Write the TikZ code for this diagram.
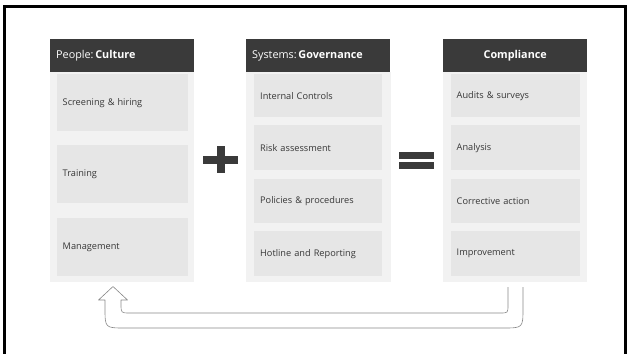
\documentclass[tikz,border=0pt]{standalone}
\usepackage{fontspec}
\setmainfont{Open Sans}
\usetikzlibrary{positioning}
\definecolor{entete}{RGB}{58,58,58}
\definecolor{fond}{RGB}{242,242,242}
\definecolor{case}{RGB}{230,230,230}
\definecolor{texte}{RGB}{55,55,55}
\definecolor{fleche}{RGB}{135,135,135}
\tikzset{
  titre/.style={fill=entete, text=white, anchor=north west, minimum width=144, minimum height=33,
    text width=132, inner xsep=6, inner ysep=0, align=left, font=\fontsize{10.8}{12}\selectfont},
  etape/.style={fill=case, text=texte, anchor=north west, minimum width=131, text width=119,
    inner xsep=6, inner ysep=0, align=left, font=\fontsize{9.2}{10}\selectfont}
}

\begin{document}
\begin{tikzpicture}[x=1pt,y=-1pt]
\useasboundingbox (0,0) rectangle (628,353);
\draw [line width=3pt] (4.5,354) -- (4.5,7) -- (625.5,7) -- (625.5,354);

% les trois colonnes
\fill [fond] (50,72) rectangle (194,282);
\fill [fond] (246,72) rectangle (390.5,282);
\fill [fond] (443,72) rectangle (587,282);

\node [titre] (culture) at (50,39) {People:\,\textbf{Culture}};
\node [titre] (gouvernance) at (246,39) {Systems:\,\textbf{Governance}};
\node [titre, align=center] (conformite) at (443,39) {\textbf{Compliance}};

\node [etape, minimum height=57] (c1) at (56.5,74) {Screening \& hiring};
\node [etape, minimum height=58] (c2) at (56.5,145) {Training};
\node [etape, minimum height=58.5] (c3) at (56.5,217.5) {Management};

\node [etape, minimum height=43, minimum width=128, text width=116] (g1) at (254,74) {Internal Controls};
\node [etape, minimum height=45, minimum width=128, text width=116] (g2) at (254,125) {Risk assessment};
\node [etape, minimum height=44.5, minimum width=128, text width=116] (g3) at (254,178.5) {Policies \& procedures};
\node [etape, minimum height=45, minimum width=128, text width=116] (g4) at (254,231) {Hotline and Reporting};

\node [etape, minimum height=43, minimum width=129.5, text width=117.5] (k1) at (450.5,74) {Audits \& surveys};
\node [etape, minimum height=45, minimum width=129.5, text width=117.5] (k2) at (450.5,125) {Analysis};
\node [etape, minimum height=44.5, minimum width=129.5, text width=117.5] (k3) at (450.5,178.5) {Corrective action};
\node [etape, minimum height=45, minimum width=129.5, text width=117.5] (k4) at (450.5,231) {Improvement};

% plus et egal
\fill [entete] (216.5,146) rectangle (224.5,173);
\fill [entete] (203,155.5) rectangle (238,163.5);
\fill [entete] (399,152) rectangle (434,158.5);
\fill [entete] (399,162) rectangle (434,168.5);

% fleche de retour
\draw [fleche, line width=0.6pt, line join=round] (508,287) -- (508,305) .. controls (508,313) .. (500,313)
  -- (130,313) .. controls (121,313) .. (121,304) -- (121,300) -- (127.5,300) -- (113,286.5) -- (98.5,300)
  -- (105,300) -- (105,308) .. controls (105,328) .. (125,328) -- (503,328) .. controls (523,328) .. (523,308)
  -- (523,287);

\end{tikzpicture}
\end{document}
